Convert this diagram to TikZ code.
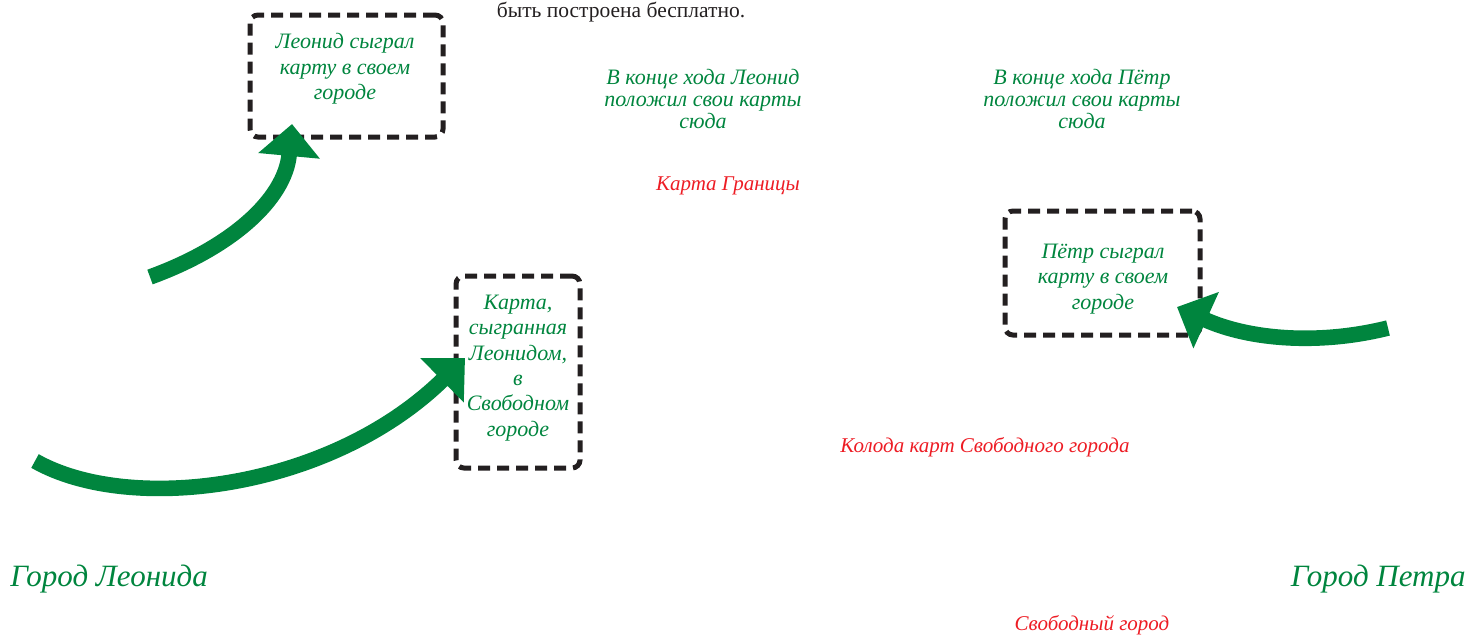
\documentclass[tikz,border=0pt]{standalone}
\usepackage{fontspec}
\setmainfont{Liberation Serif}
\usetikzlibrary{arrows.meta}

\begin{document}
\begin{tikzpicture}[x=0.5pt, y=-0.5pt,
  cardbox/.style={draw=boxblack, line width=2.5pt, dash pattern=on 6pt off 3.5pt, rounded corners=4pt, inner sep=0pt},
  greentext/.style={text=cardgreen, font=\fontsize{11}{12.7}\selectfont\itshape, align=center, inner sep=0pt},
  notetext/.style={text=cardgreen, font=\fontsize{11}{10.8}\selectfont\itshape, align=center, inner sep=0pt},
  redtext/.style={text=cardred, font=\fontsize{10.5}{13}\selectfont\itshape, inner sep=0pt},
  citytext/.style={text=cardgreen, font=\fontsize{15.5}{18}\selectfont\itshape, inner sep=0pt},
  bigarrow/.style={draw=cardgreen, line width=7.8pt, -{Triangle[length=16pt, width=30pt]}}
]
  % Define colors
  \definecolor{cardgreen}{RGB}{0,133,62}
  \definecolor{cardred}{RGB}{237,28,36}
  \definecolor{boxblack}{RGB}{35,31,32}

  \useasboundingbox (0,0) rectangle (1468,634);

  % Line of body text cut at the top
  \node[text=boxblack, font=\fontsize{10.75}{13}\selectfont, inner sep=0pt] (bodyline) at (621,12) {быть построена бесплатно.};

  % Dashed boxes
  \node[cardbox, minimum width=96.5pt, minimum height=61pt] (leonidBox) at (346.5,76) {};
  \node[cardbox, minimum width=62pt, minimum height=96pt] (freeBox) at (518,372) {};
  \node[cardbox, minimum width=97.5pt, minimum height=62pt] (petrBox) at (1102.5,273) {};

  % Texts in the boxes
  \node[greentext] (leonidText) at (345,69) {Леонид сыграл\\карту в своем\\городе};
  \node[greentext] (freeText) at (518,368) {Карта,\\сыгранная\\Леонидом,\\в\\Свободном\\городе};
  \node[greentext] (petrText) at (1103,279) {Пётр сыграл\\карту в своем\\городе};

  % Notes about the end of the turn
  \node[notetext] (leonidNote) at (703,99) {В конце хода Леонид\\положил свои карты\\сюда};
  \node[notetext] (petrNote) at (1082,99) {В конце хода Пётр\\положил свои карты\\сюда};

  % Red labels
  \node[redtext] (borderCard) at (728,186) {Карта Границы};
  \node[redtext] (freeDeck) at (985,447) {Колода карт Свободного города};
  \node[redtext] (freeCity) at (1092,625) {Свободный город};

  % Cities
  \node[citytext, anchor=west] (leonidCity) at (10,579) {Город Леонида};
  \node[citytext, anchor=east] (petrCity) at (1466,579) {Город Петра};

  % Arrows
  \coordinate (leonidTail) at (150,277);
  \coordinate (leonidTip) at (292,124);
  \coordinate (freeTail) at (35,461);
  \coordinate (freeTip) at (465,358);
  \coordinate (petrTail) at (1388,328);
  \coordinate (petrTip) at (1177,307);
  \draw[bigarrow] (leonidTail) .. controls (230,248) and (285,200) .. (leonidTip);
  \draw[bigarrow] (freeTail) .. controls (130,515) and (330,490) .. (freeTip);
  \draw[bigarrow] (petrTail) .. controls (1320,345) and (1250,340) .. (petrTip);

\end{tikzpicture}
\end{document}
